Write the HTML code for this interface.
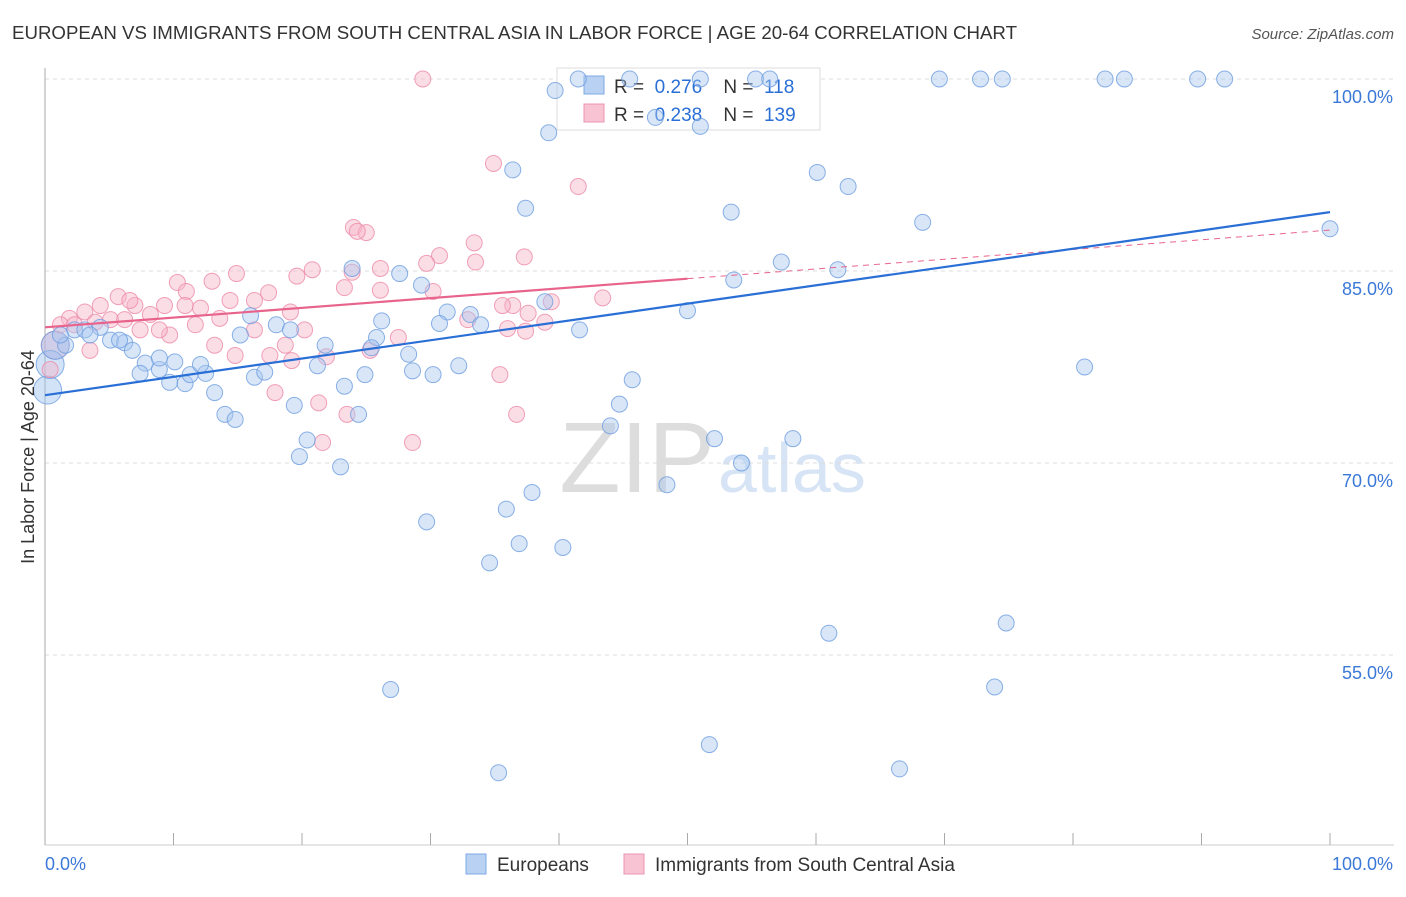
<!DOCTYPE html>
<html><head><meta charset="utf-8"><style>
body{margin:0;background:#fff;font-family:"Liberation Sans",sans-serif;}
svg text{font-family:"Liberation Sans",sans-serif;}
</style></head><body>
<svg id="chart" width="1406" height="892">
<text x="12" y="39" font-size="18" fill="#333" textLength="1005" lengthAdjust="spacingAndGlyphs">EUROPEAN VS IMMIGRANTS FROM SOUTH CENTRAL ASIA IN LABOR FORCE | AGE 20-64 CORRELATION CHART</text>
<text x="1394" y="39" font-size="15" fill="#555" font-style="italic" text-anchor="end">Source: ZipAtlas.com</text>
<text x="715" y="492" font-size="100" fill="#ddd" text-anchor="end" font-family="Liberation Serif">ZIP</text>
<text x="718" y="492" font-size="70" fill="#d6e4f5">atlas</text>
<g id="grid"></g>
<g>
<rect x="557" y="68" width="263" height="62" fill="#fff" stroke="#ddd"/>
<rect x="584" y="76" width="20" height="18" fill="#b9d2f3" stroke="#7ea8e3"/>
<rect x="584" y="104" width="20" height="18" fill="#f8c3d3" stroke="#ec95b0"/>
<text x="614" y="93" font-size="19" fill="#333" xml:space="preserve">R =  <tspan fill="#2a6fd6">0.276</tspan>    N =  <tspan fill="#2a6fd6">118</tspan></text>
<text x="614" y="121" font-size="19" fill="#333" xml:space="preserve">R =  <tspan fill="#2a6fd6">0.238</tspan>    N =  <tspan fill="#2a6fd6">139</tspan></text>
</g>
<g id="marks"></g>
<text transform="translate(34,457) rotate(-90)" font-size="18" fill="#333" text-anchor="middle">In Labor Force | Age 20-64</text>
<g>
<rect x="466" y="854" width="20" height="20" fill="#b9d2f3" stroke="#7ea8e3"/>
<text x="497" y="871" font-size="19" fill="#333">Europeans</text>
<rect x="624" y="854" width="20" height="20" fill="#f8c3d3" stroke="#ec95b0"/>
<text x="655" y="871" font-size="19" fill="#333">Immigrants from South Central Asia</text>
</g>
</svg>
<script>
const yTicks=[100,85,70,55];
const xTickLabels=["0.0%","100.0%"];
const blueX=[41.5,45.5,51,55.3,56.4,69.6,72.8,74.5,82.5,84,89.7,91.8,39.7,47.5,51,39.2,36.4,60.1,62.5,37.4,53.4,68.3,100,57.3,61.7,53.6,23.9,27.6,29.3,38.9,50,31.3,33.1,26.2,30.7,33.9,41.6,18,16,25.8,21.8,25.4,28.3,32.2,28.6,24.9,30.2,21.2,45.7,23.3,19.4,24.4,44.7,44,52.1,58.2,20.4,19.8,23,54.2,48.4,37.9,35.9,29.7,36.9,40.3,34.6,80.9,74.8,61,73.9,26.9,51.7,35.3,66.5,1.6,2.3,3.1,4.3,5.1,6.2,6.8,7.8,7.4,8.9,9.7,10.9,11.3,12.5,12.1,13.2,14,14.8,15.2,16.3,17.1,10.1,8.9,5.8,19.1,1.2,3.5];
const blueY=[100,100,100,100,100,100,100,100,100,100,100,100,99.1,97,96.3,95.8,92.9,92.7,91.6,89.9,89.6,88.8,88.3,85.7,85.1,84.3,85.2,84.8,83.9,82.6,81.9,81.8,81.6,81.1,80.9,80.8,80.4,80.8,81.5,79.8,79.2,79,78.5,77.6,77.2,76.9,76.9,77.6,76.5,76,74.5,73.8,74.6,72.9,71.9,71.9,71.8,70.5,69.7,70,68.3,67.7,66.4,65.4,63.7,63.4,62.2,77.5,57.5,56.7,52.5,52.3,48,45.8,46.1,79.2,80.4,80.4,80.6,79.6,79.4,78.8,77.8,77,77.3,76.3,76.2,76.9,77,77.7,75.5,73.8,73.4,80,76.7,77.1,77.9,78.2,79.6,80.4,80,80];
const blueBigX=[0.2,0.4,0.8];
const blueBigY=[75.7,77.7,79.2];
const pinkX=[29.4,34.9,41.5,24,25,24.3,33.4,30.7,33.5,37.3,29.7,26.1,23.9,20.8,19.6,14.9,13,10.3,11,23.3,26.1,30.2,43.4,39.4,36.4,35.6,37.6,32.9,38.9,37.4,36,27.5,25.3,21.9,19.2,35.4,17.9,21.3,23.5,36.7,28.6,21.6,17.4,19.1,20.2,16.3,14.4,13.6,12.1,10.9,9.3,8.2,7,5.7,4.3,3.1,1.9,1.2,0.4,3.5,5.1,7.4,9.7,11.7,13.2,14.8,16.3,17.5,18.7,6.2,8.9,2.3,3.9,6.6];
const pinkY=[100,93.4,91.6,88.4,88,88.1,87.2,86.2,85.7,86.1,85.6,85.2,84.9,85.1,84.6,84.8,84.2,84.1,83.4,83.7,83.5,83.4,82.9,82.6,82.3,82.3,81.7,81.2,81,80.3,80.5,79.8,78.8,78.3,78,76.9,75.5,74.7,73.8,73.8,71.6,71.6,83.3,81.8,80.4,82.7,82.7,81.3,82.1,82.3,82.3,81.6,82.3,83,82.3,81.8,81.3,80.8,77.3,78.8,81.2,80.4,80,80.8,79.2,78.4,80.4,78.4,79.2,81.2,80.4,80.8,81,82.7];
const pinkBigX=[0.8];
const pinkBigY=[79.2];
const blueLine=[75.3,89.6];
const pinkLine=[80.6,88.2];
const pinkSolidEnd=50;
const X=v=>45+v*12.85, Y=v=>79+(100-v)*12.8;
const NS="http://www.w3.org/2000/svg";
const grid=document.getElementById('grid'), marks=document.getElementById('marks');
function mk(tag,attrs,parent){const e=document.createElementNS(NS,tag);for(const k in attrs)e.setAttribute(k,attrs[k]);parent.appendChild(e);return e;}
yTicks.forEach(t=>{
 const l=mk('line',{x1:45,x2:1394,y1:Y(t),y2:Y(t),stroke:'#ddd','stroke-dasharray':'4,4'},grid);
 
 
 const tx=mk('text',{x:1393,y:Y(t)+24,'font-size':18,fill:'#3b78d8','text-anchor':'end'},grid);
 tx.textContent=t.toFixed(1)+'%';
 
 
});
mk('line',{x1:45,x2:45,y1:68,y2:845,stroke:'#aaa'},grid);
mk('line',{x1:45,x2:1394,y1:845,y2:845,stroke:'#ccc'},grid);
for(let i=0;i<=10;i++){const t=mk('line',{x1:X(i*10),x2:X(i*10),y1:833,y2:845,stroke:'#aaa'},grid);
 
 }
const xl0=mk('text',{x:45,y:870,'font-size':18,fill:'#3b78d8'},grid);xl0.textContent=xTickLabels[0];


const xl1=mk('text',{x:1393,y:870,'font-size':18,fill:'#3b78d8','text-anchor':'end'},grid);xl1.textContent=xTickLabels[1];


function dots(xs,ys,r,fill,stroke,name){xs.forEach((x,i)=>{
 const c=mk('circle',{cx:X(x),cy:Y(ys[i]),r:r,fill:fill,'fill-opacity':0.45,stroke:stroke,'stroke-opacity':0.8,'stroke-width':1},marks);
 
 
});}
dots(pinkBigX,pinkBigY,14,'#f4a6bf','#ec8aa8','pink-point');
dots(blueBigX,blueBigY,14,'#9cc1ef','#6e9ee0','blue-point');
dots(pinkX,pinkY,8,'#f7b3c8','#ec8aa8','pink-point');
dots(blueX,blueY,8,'#a8c8f0','#6e9ee0','blue-point');
const py=x=>pinkLine[0]+(pinkLine[1]-pinkLine[0])*x/100;
const by=x=>blueLine[0]+(blueLine[1]-blueLine[0])*x/100;
const pl=mk('line',{x1:X(0),y1:Y(py(0)),x2:X(pinkSolidEnd),y2:Y(py(pinkSolidEnd)),stroke:'#e8648c','stroke-width':2.2},marks);


const pd=mk('line',{x1:X(pinkSolidEnd),y1:Y(py(pinkSolidEnd)),x2:X(100),y2:Y(py(100)),stroke:'#e8648c','stroke-width':1,'stroke-dasharray':'6,5'},marks);


const bl=mk('line',{x1:X(0),y1:Y(by(0)),x2:X(100),y2:Y(by(100)),stroke:'#2a6fd6','stroke-width':2.2},marks);


</script>
</body></html>
